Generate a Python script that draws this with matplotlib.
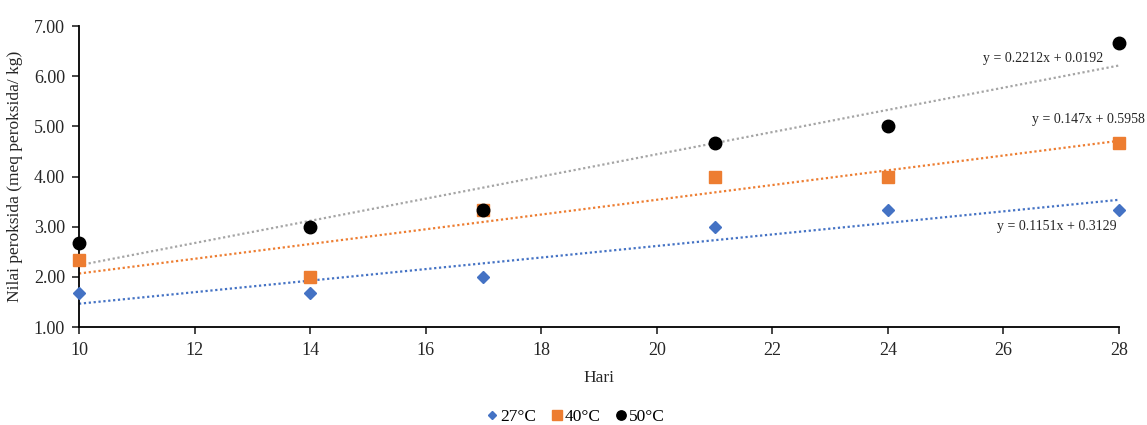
import numpy as np
import matplotlib
matplotlib.use("Agg")
import matplotlib.pyplot as plt

plt.rcParams["font.family"] = ["Liberation Serif", "DejaVu Serif"]

# data
hari = [10, 14, 17, 21, 24, 28]
nilai_27 = [1.67, 1.67, 2.00, 3.00, 3.33, 3.33]
nilai_40 = [2.33, 2.00, 3.33, 4.00, 4.00, 4.67]
nilai_50 = [2.67, 3.00, 3.33, 4.67, 5.00, 6.67]
labels = ["27°C", "40°C", "50°C"]

# trendline coefficients (as printed on chart)
slopes = [0.1151, 0.147, 0.2212]
intercepts = [0.3129, 0.5958, 0.0192]
eq_texts = ["y = 0.1151x + 0.3129", "y = 0.147x + 0.5958", "y = 0.2212x + 0.0192"]

colors = ["#4472C4", "#ED7D31", "#000000"]
line_colors = ["#4472C4", "#ED7D31", "#A5A5A5"]
markers = ["D", "s", "o"]
msizes = [6, 9, 9]

fig = plt.figure(figsize=(11.47, 4.25), dpi=100)
ax = fig.add_axes([79 / 1147, 1 - 327 / 425, (1119 - 79) / 1147, (327 - 26) / 425])

series = [nilai_27, nilai_40, nilai_50]
xs = np.array([hari[0], hari[-1]])
for i, ys in enumerate(series):
    ax.plot(xs, slopes[i] * xs + intercepts[i], linestyle=(0, (1, 1.2)),
            color=line_colors[i], lw=1.6, zorder=2)
for i, ys in enumerate(series):
    ax.plot(hari, ys, linestyle="none", marker=markers[i], color=colors[i],
            markersize=msizes[i], label=labels[i], clip_on=False, zorder=3)

# equation labels
eq_pos = [(27.96, 3.01), (28.44, 5.13), (27.72, 6.36)]
for (x, y), t in zip(eq_pos, eq_texts):
    ax.text(x, y, t, ha="right", va="center", fontsize=10, color="#262626")

ax.set_xlim(10, 28)
ax.set_ylim(1, 7)
ax.set_xticks(range(10, 29, 2))
ax.set_yticks(np.arange(1, 7.01, 1))
ax.set_yticklabels([f"{v:.2f}" for v in np.arange(1, 7.01, 1)])
ax.tick_params(labelsize=13, direction="out", length=5, width=1.2, colors="#262626")
ax.tick_params(axis="x", pad=6)
ax.tick_params(axis="y", pad=5)
for s in ["top", "right"]:
    ax.spines[s].set_visible(False)
for s in ["left", "bottom"]:
    ax.spines[s].set_linewidth(1.3)
    ax.spines[s].set_color("black")

ax.set_xlabel("Hari", fontsize=12.5, color="#262626", labelpad=8)
ax.set_ylabel("Nilai peroksida (meq peroksida/ kg)", fontsize=12.5, color="#262626", labelpad=8)

fig.legend(loc="center", bbox_to_anchor=(575 / 1147, 1 - 417 / 425), ncol=3,
           frameon=False, fontsize=12.5, handletextpad=0.05, columnspacing=0.8,
           handlelength=0.8, markerscale=0.75)

fig.savefig("out.png", dpi=100)
